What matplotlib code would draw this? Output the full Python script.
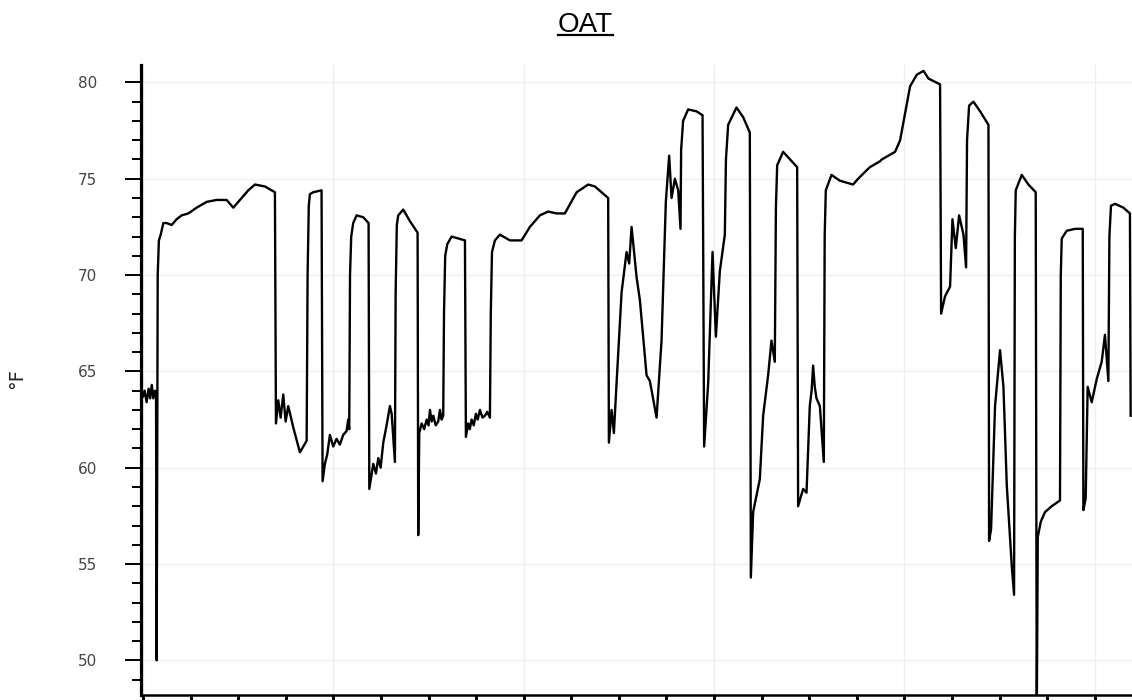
import numpy as np
import matplotlib
matplotlib.use("Agg")
import matplotlib.pyplot as plt
from matplotlib.ticker import MultipleLocator, NullFormatter
from matplotlib.lines import Line2D

# --- données (heures depuis le début, température extérieure en °F) ---
hours = [
    0.0, 0.2, 0.45, 0.7, 0.9, 1.1, 1.3, 1.5, 1.64, 1.72, 1.85, 2.0, 2.23, 2.56, 2.98, 3.61,
    4.24, 4.87, 5.71, 6.76, 8.02, 9.28, 10.54, 11.38, 12.22, 13.27, 14.11, 15.37, 16.63,
    16.76, 17.05, 17.35, 17.68, 17.98, 18.31, 18.94, 19.78, 20.63, 20.75, 20.9, 21.04, 21.46,
    22.51, 22.64, 22.93, 23.23, 23.56, 23.98, 24.40, 24.82, 25.24, 25.66, 25.87, 26.0,
    26.1, 26.25, 26.5, 26.93, 27.77, 28.44, 28.53, 29.03, 29.37, 29.66, 29.96, 30.29, 30.71,
    31.13, 31.35, 31.76, 31.85, 32.0, 32.18, 32.81, 33.65, 34.62, 34.70, 34.83, 35.13,
    35.45, 35.76, 36.0, 36.18, 36.40, 36.60, 36.9, 37.22, 37.44, 37.65, 37.85, 37.95,
    38.1, 38.36, 38.91, 40.59, 40.71, 41.0, 41.2, 41.43, 41.7, 41.97, 42.2, 42.48, 42.8,
    43.11, 43.4, 43.74, 43.85, 44.0, 44.37, 45.0, 46.26, 47.73, 48.78, 50.04, 51.09,
    52.14, 53.19, 54.67, 56.13, 56.98, 58.65, 58.74, 59.08, 59.37, 59.71, 60.34, 60.76,
    60.97, 61.30, 61.60, 62.23, 62.65, 63.49, 63.91, 64.75, 65.38, 65.92, 66.34, 66.64,
    67.06, 67.48, 67.77, 67.85, 68.10, 68.73, 69.79, 70.55, 70.75, 71.26, 71.81, 72.23,
    72.73, 73.36, 73.5, 73.78, 74.83, 75.67, 76.51, 76.64, 76.93, 77.77, 78.19, 78.82,
    79.24, 79.66, 79.8, 79.96, 80.71, 82.48, 82.60, 83.23, 83.66, 84.07, 84.3, 84.49,
    84.7, 84.92, 85.34, 85.84, 85.95, 86.09, 86.81, 87.86, 89.53, 90.16, 91.64, 92.90,
    93.15, 94.83, 95.46, 96.72, 97.56, 98.41, 99.04, 100.50, 100.63, 101.13, 101.76,
    102.06, 102.48, 102.90, 103.45, 103.78, 103.9, 104.16, 104.71, 105.55, 106.60,
    106.68, 106.93, 107.43, 108.06, 108.49, 108.91, 109.54, 109.83, 109.93, 110.04,
    110.80, 111.64, 112.56, 112.69, 112.82, 113.2, 113.73, 114.57, 115.62, 115.72,
    115.84, 116.47, 117.51, 118.49, 118.57, 118.86, 119.11, 119.62, 120.25, 120.88,
    121.29, 121.72, 121.85, 122.05, 122.56, 123.61, 124.44, 124.53,
]
oat_f = [
    63.7, 64.0, 63.4, 64.1, 63.6, 64.3, 63.6, 64.0, 63.9, 50.0, 70.0, 71.8, 72.1, 72.7, 72.7, 72.6,
    72.9, 73.1, 73.2, 73.5, 73.8, 73.9, 73.9, 73.5, 73.9, 74.4, 74.7, 74.6, 74.3,
    62.3, 63.5, 62.6, 63.8, 62.4, 63.2, 62.1, 60.8, 61.4, 70.0, 73.6, 74.2, 74.3,
    74.4, 59.3, 60.2, 60.7, 61.7, 61.1, 61.5, 61.2, 61.7, 61.9, 62.5, 62.0,
    70.0, 72.0, 72.7, 73.1, 73.0, 72.7, 58.9, 60.2, 59.7, 60.5, 60.0, 61.3, 62.2,
    63.2, 62.8, 60.3, 69.0, 72.6, 73.1, 73.4, 72.8, 72.2, 56.5, 61.8, 62.3,
    62.0, 62.5, 62.2, 63.0, 62.4, 62.7, 62.2, 62.4, 63.0, 62.5, 62.7, 68.0,
    71.0, 71.6, 72.0, 71.8, 61.6, 62.3, 62.0, 62.5, 62.2, 62.8, 62.5, 63.0, 62.6,
    62.7, 62.9, 62.6, 68.0, 71.2, 71.8, 72.1, 71.8, 71.8, 72.5, 73.1, 73.3,
    73.2, 73.2, 74.3, 74.7, 74.6, 74.0, 61.3, 63.0, 61.8, 64.4, 69.1, 70.5,
    71.2, 70.6, 72.5, 69.9, 68.7, 64.8, 64.5, 62.6, 66.6, 73.8, 76.2, 74.0,
    75.0, 74.4, 72.4, 76.5, 78.0, 78.6, 78.5, 78.3, 61.1, 64.4, 71.2, 66.8,
    70.2, 72.1, 76.0, 77.8, 78.7, 78.2, 77.4, 54.3, 57.7, 59.4, 62.7, 64.8,
    66.6, 65.5, 73.5, 75.7, 76.4, 75.6, 58.0, 58.9, 58.7, 63.2, 64.0, 65.3,
    64.2, 63.6, 63.2, 60.3, 72.0, 74.4, 75.2, 74.9, 74.7, 75.0, 75.6, 75.9,
    76.0, 76.4, 77.0, 79.8, 80.4, 80.6, 80.2, 79.9, 68.0, 68.9, 69.4,
    72.9, 71.4, 73.1, 72.1, 70.4, 77.0, 78.8, 79.0, 78.5, 77.8,
    56.2, 56.8, 63.2, 66.1, 64.2, 59.1, 54.9, 53.4, 72.0, 74.4,
    75.2, 74.7, 74.3, 47.0, 56.4, 57.2, 57.7, 58.0, 58.3, 70.0,
    71.9, 72.3, 72.4, 72.4, 57.8, 58.4, 64.2, 63.4, 64.6, 65.5,
    66.9, 64.5, 72.0, 73.6, 73.7, 73.5, 73.2, 62.7,
]

# --- figure ---
fig = plt.figure(figsize=(11.32, 7.0), dpi=100)
ax = fig.add_axes([0.1246, 0.0071, 0.8754, 0.8999])

ax.plot(hours, oat_f, color="black", linewidth=1.7, solid_joinstyle="round")

ax.set_xlim(-0.25, 124.7)
ax.set_ylim(48.2, 80.9)

# grille légère
ax.yaxis.set_major_locator(MultipleLocator(5))
ax.yaxis.set_minor_locator(MultipleLocator(1))
ax.xaxis.set_major_locator(MultipleLocator(6))
for y in range(50, 81, 5):
    ax.axhline(y, color="#efefef", linewidth=0.9, zorder=0)
for x in range(0, 125, 24):
    ax.axvline(x, color="#efefef", linewidth=0.9, zorder=0)

# axes
for side in ("top", "right"):
    ax.spines[side].set_visible(False)
ax.spines["left"].set_linewidth(2.3)
ax.spines["bottom"].set_linewidth(1.8)

ax.tick_params(axis="y", which="major", length=11.5, width=1.4, pad=20,
               labelsize=11, labelcolor="#444444")
ax.tick_params(axis="y", which="minor", length=6.5, width=1.4)
ax.tick_params(axis="x", which="major", length=8, width=2.2, labelbottom=False)
ax.xaxis.set_minor_formatter(NullFormatter())

ax.set_ylabel("°F", fontsize=14, color="#222222")
ax.yaxis.set_label_coords(-0.116, 0.503)

# titre souligné
title = fig.text(0.517, 0.955, "OAT", ha="center", va="baseline",
                 fontsize=20, family="Liberation Sans", color="black")
fig.canvas.draw()
bb = title.get_window_extent()
uy = 0.955 * fig.bbox.height - 3
fig.add_artist(Line2D([bb.x0, bb.x1], [uy, uy], transform=None,
                      color="black", linewidth=1.6))

fig.savefig("out.png", dpi=100)
